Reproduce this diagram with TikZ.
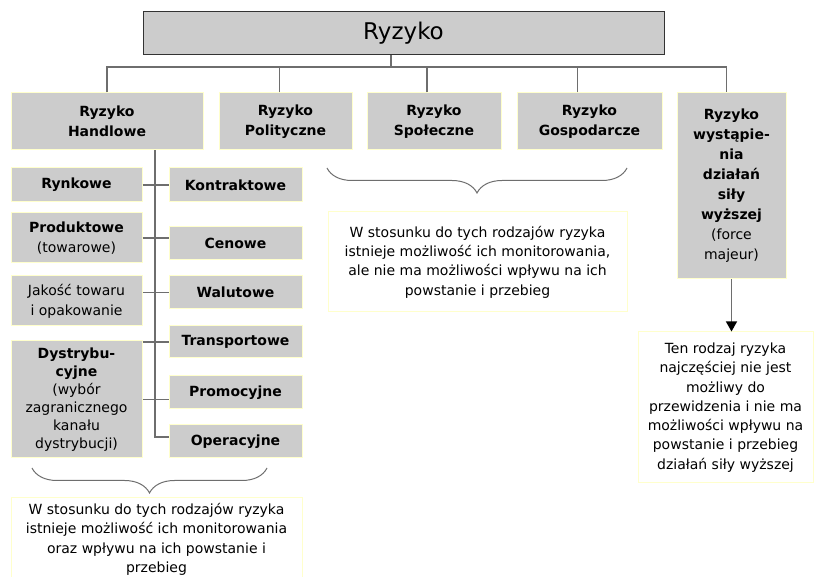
\documentclass[tikz,border=0pt]{standalone}
\usepackage{fontspec}
\setmainfont{DejaVu Sans}
\usepackage{tikz}
\usetikzlibrary{arrows.meta,positioning,calc,decorations.pathreplacing}

\definecolor{boxgray}{HTML}{CCCCCC}
\definecolor{boxedge}{HTML}{FFFFCC}
\definecolor{linegray}{HTML}{6E6E6E}

\begin{document}
\begin{tikzpicture}[
    x=1pt, y=-1pt,
    title/.style={rectangle, draw=black!80, fill=boxgray, line width=1pt, minimum width=521pt, minimum height=43pt, font=\fontsize{23}{27}\selectfont},
    box/.style={rectangle, draw=boxedge, fill=boxgray, line width=1pt, align=center, inner sep=2pt, font=\fontsize{14}{20}\selectfont\bfseries},
    leftbox/.style={box, minimum width=131pt},
    rightbox/.style={box, minimum width=133pt},
    note/.style={rectangle, draw=boxedge, fill=white, line width=1pt, align=center, font=\fontsize{14}{19.3}\selectfont},
    conn/.style={draw=linegray, line width=1.2pt},
    arrow/.style={conn, -{Triangle[length=10pt,width=11pt,black]}},
    brace/.style={draw=linegray, line width=1pt, decorate, decoration={brace, amplitude=25pt}}
]
\useasboundingbox (0,0) rectangle (815,577);
\clip (0,0) rectangle (815,577);

% Top
\node[title] (ryzyko) at (403.5,33.5) {Ryzyko};

% Main kinds of risk
\node[box, minimum width=192pt, minimum height=57pt] (handl) at (107,121.5) {Ryzyko\\Handlowe};
\node[box, minimum width=133pt, minimum height=57pt] (polit) at (285.5,121.5) {Ryzyko\\Polityczne};
\node[box, minimum width=134pt, minimum height=57pt] (spol) at (434,121.5) {Ryzyko\\Społeczne};
\node[box, minimum width=145pt, minimum height=57pt] (gosp) at (589.5,121.5) {Ryzyko\\Gospodarcze};
\node[box, minimum width=109pt, minimum height=186pt] (sily) at (731.5,186) {Ryzyko\\wystąpie-\\nia\\działań\\siły\\wyższej\\\mdseries(force\\\mdseries majeur)};

% Trade risk, left column
\node[leftbox, minimum height=34pt] (rynk) at (76.5,185) {Rynkowe};
\node[leftbox, minimum height=50pt] (prod) at (76.5,238) {Produktowe\\\mdseries(towarowe)};
\node[leftbox, minimum height=50pt, font=\fontsize{14}{20}\selectfont] (jak) at (76.5,301) {Jakość towaru\\i opakowanie};
\node[leftbox, minimum height=117pt, font=\fontsize{14}{18}\selectfont\bfseries] (dystr) at (76.5,399.5) {Dystrybu-\\cyjne\\\mdseries(wybór\\\mdseries zagranicznego\\\mdseries kanału\\\mdseries dystrybucji)};

% Trade risk, right column
\node[rightbox, minimum height=34pt] (kontr) at (235.5,185) {Kontraktowe};
\node[rightbox, minimum height=33pt] (cen) at (235.5,243.5) {Cenowe};
\node[rightbox, minimum height=33pt] (walut) at (235.5,292.5) {Walutowe};
\node[rightbox, minimum height=32pt] (transp) at (235.5,342) {Transportowe};
\node[rightbox, minimum height=33pt] (promo) at (235.5,392.5) {Promocyjne};
\node[rightbox, minimum height=33pt] (operac) at (235.5,441.5) {Operacyjne};

% Notes
\node[note, anchor=north, minimum width=291pt, inner ysep=6pt] (note1) at (156.5,497) {W stosunku do tych rodzajów ryzyka\\istnieje możliwość ich monitorowania\\oraz wpływu na ich powstanie i\\przebieg};
\node[note, minimum width=299pt, minimum height=100pt] (note2) at (477.5,262) {W stosunku do tych rodzajów ryzyka\\istnieje możliwość ich monitorowania,\\ale nie ma możliwości wpływu na ich\\powstanie i przebieg};
\node[note, minimum width=175pt, minimum height=151pt] (note3) at (725.5,407.5) {Ten rodzaj ryzyka\\najczęściej nie jest\\możliwy do\\przewidzenia i nie ma\\możliwości wpływu na\\powstanie i przebieg\\działań siły wyższej};

% Tree
\coordinate (hub) at (391,67);
\draw[conn] (ryzyko.south -| hub) -- (hub);
\draw[conn] (handl.north) |- (hub) -| ([xshift=-5pt]sily.north);
\foreach \n/\dx in {polit/-6, spol/-7, gosp/-12}
    \draw[conn] ([xshift=\dx pt]\n.north) -- ++(0,-26);

% Trade risk spine
\coordinate (spine) at (155,437);
\draw[conn] (handl.south -| spine) -- (spine) -- (spine -| operac.west);
\draw[conn] (rynk.east) -- (kontr.west);
\draw[conn] (prod.east) -- (prod.east -| cen.west);
\draw[conn] (walut.west -| jak.east) -- (walut.west);
\draw[conn] (transp.west -| dystr.east) -- (transp.west);
\draw[conn] (dystr.east) -- (dystr.east -| promo.west);

% Braces
\coordinate (b1r) at (267,468);
\coordinate (b1l) at (32,468);
\coordinate (b2r) at (627,168);
\coordinate (b2l) at (327,168);
\draw[brace] (b1r) -- (b1l);
\draw[brace] (b2r) -- (b2l);

% Force majeure
\draw[arrow] (sily.south) -- (sily.south |- note3.north);

\end{tikzpicture}
\end{document}
